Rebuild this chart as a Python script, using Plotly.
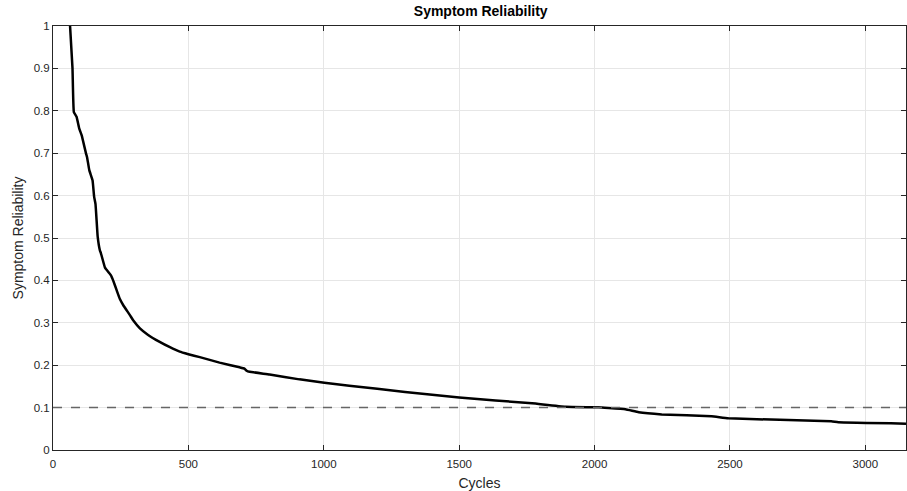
import plotly.graph_objects as go

cycles = [63, 72, 77, 87, 97, 106, 122, 126, 134, 146, 152, 157, 165, 173, 177, 192, 198, 214, 222,
          235, 247, 259, 284, 296, 321, 350, 394, 430, 468, 500, 542, 615, 689, 707, 715, 726, 800,
          910, 1002, 1094, 1300, 1500, 1769, 1893, 2015, 2052, 2114, 2163, 2248, 2432, 2494, 2874,
          2900, 3150]
reliability = [1.0, 0.9, 0.797, 0.786, 0.758, 0.742, 0.699, 0.69, 0.66, 0.636, 0.597, 0.58, 0.503,
               0.471, 0.464, 0.43, 0.425, 0.412, 0.4, 0.377, 0.356, 0.342, 0.318, 0.306, 0.287,
               0.272, 0.255, 0.243, 0.232, 0.226, 0.219, 0.206, 0.195, 0.192, 0.187, 0.1846, 0.178,
               0.1666, 0.1587, 0.1516, 0.137, 0.124, 0.110, 0.102, 0.1006, 0.099, 0.096, 0.089,
               0.084, 0.0795, 0.0747, 0.0676, 0.0652, 0.062]
threshold = 0.1
x_ticks = [0, 500, 1000, 1500, 2000, 2500, 3000]
y_ticks = [0, 0.1, 0.2, 0.3, 0.4, 0.5, 0.6, 0.7, 0.8, 0.9, 1]
y_tick_labels = ["0", "0.1", "0.2", "0.3", "0.4", "0.5", "0.6", "0.7", "0.8", "0.9", "1"]

FONT = "Liberation Sans, Arial"

fig = go.Figure()
fig.add_trace(go.Scatter(x=cycles, y=reliability, mode="lines",
                         line=dict(color="black", width=2.5, shape="spline", smoothing=0.3),
                         showlegend=False))
fig.add_hline(y=threshold, line=dict(color="#666666", width=1.5, dash="dash"), layer="above")

axis_common = dict(showline=True, linecolor="#262626", linewidth=1, mirror="ticks",
                   ticks="inside", ticklen=5, tickcolor="#262626", automargin=False,
                   showgrid=True, gridcolor="#e6e6e6", gridwidth=1, zeroline=False,
                   tickfont=dict(family=FONT, size=11.5, color="#262626"))

fig.update_layout(
    width=907, height=491,
    margin=dict(l=53, r=1, t=26, b=41),
    paper_bgcolor="white", plot_bgcolor="white",
    title=dict(text="<b>Symptom Reliability</b>", x=0.53, xanchor="center",
               y=1 - 11 / 491, yanchor="middle", automargin=False,
               font=dict(family=FONT, size=14, color="black")),
    xaxis=dict(range=[0, 3150], tickvals=x_ticks, ticklabelstandoff=3,
               title=dict(text="Cycles", standoff=10,
                          font=dict(family=FONT, size=14, color="#262626")), **axis_common),
    yaxis=dict(range=[0, 1], tickvals=y_ticks, ticktext=y_tick_labels,
               title=dict(text="Symptom Reliability", standoff=6,
                          font=dict(family=FONT, size=14, color="#262626")),
               **axis_common),
)

fig.write_html("out.html", config={"displayModeBar": False},
               post_script="document.body.style.margin='0';document.body.style.padding='0';")
